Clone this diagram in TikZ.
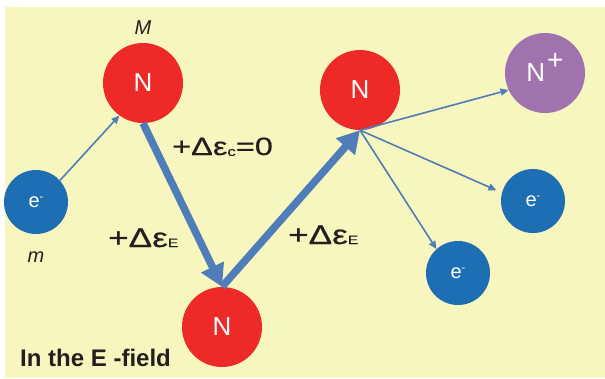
\documentclass[tikz,border=0pt]{standalone}
\usepackage{fontspec}
\setmainfont{Liberation Sans}
\newfontfamily\widefont[FakeStretch=1.3,FakeBold=0.6]{Liberation Sans}
\usetikzlibrary{arrows.meta}
\definecolor{bg}{HTML}{F7F6BE}
\definecolor{nred}{HTML}{EE2A29}
\definecolor{eblue}{HTML}{1E6EB4}
\definecolor{npurp}{HTML}{A073AF}
\definecolor{arr}{HTML}{4F7DB9}
\definecolor{txt}{HTML}{231F20}
\begin{document}
\begin{tikzpicture}[x=1pt,y=-1pt,
  atom/.style={circle, minimum size=80pt, inner sep=0pt, fill=nred, text=white,
    font=\fontsize{26}{26}\selectfont},
  ion/.style={atom, fill=npurp},
  elec/.style={circle, minimum size=64pt, inner sep=0pt, fill=eblue, text=white,
    font=\fontsize{20}{20}\selectfont},
  thin/.style={draw=arr, line width=1.6pt, -{Triangle[length=8pt,width=7pt]}},
  thick/.style={draw=arr, line width=7.5pt, -{Triangle[length=22pt,width=24pt]}},
  lbl/.style={text=txt, inner sep=0pt, anchor=base west},
  mass/.style={text=txt, inner sep=0pt, font=\fontsize{20}{20}\selectfont\itshape}
]
\useasboundingbox (0,0) rectangle (605,378);
\fill[bg] (5,7) rectangle (605,378);

% atoms
\node[atom] (M) at (143,83) {N};
\node[atom] (B) at (222,327) {N};
\node[atom] (T) at (360,90) {N};
\node[ion] (P) at (545,73) {N\hspace{2pt}\smash{\raisebox{12pt}{\fontsize{28}{28}\selectfont +}}};
\node[elec] (E0) at (36,202) {e\smash{\raisebox{7pt}{\fontsize{11}{11}\selectfont -}}};
\node[elec] (E1) at (533,201) {e\smash{\raisebox{7pt}{\fontsize{11}{11}\selectfont -}}};
\node[elec] (E2) at (458,273) {e\smash{\raisebox{7pt}{\fontsize{11}{11}\selectfont -}}};

% connectors
\draw[thin] (E0.42) -- (M.234);
\draw[thick] (B.north) -- (T.south);
\draw[thick] (M.south) -- (B.north);
\draw[thin] (T.south) -- (P.205);
\draw[thin, shorten >=6pt] (T.south) -- (E1.165);
\draw[thin] (T.south) -- (E2.132);

% labels
\node[mass] (lM) at (143,28) {M};
\node[mass] (lm) at (36,257) {m};
\node[lbl, font=\widefont\fontsize{25}{25}\selectfont] (lc) at (172,155)
  {+Δε\raisebox{-1pt}{\fontsize{13}{13}\selectfont c}=0};
\node[lbl, font=\widefont\fontsize{27}{27}\selectfont] (lE1) at (108,247)
  {+Δε\fontsize{12}{12}\selectfont E};
\node[lbl, font=\widefont\fontsize{27}{27}\selectfont] (lE2) at (288,244)
  {+Δε\fontsize{12}{12}\selectfont E};
\node[lbl, font=\bfseries\fontsize{24}{24}\selectfont] (field) at (20,366) {In the E -field};
\end{tikzpicture}
\end{document}
